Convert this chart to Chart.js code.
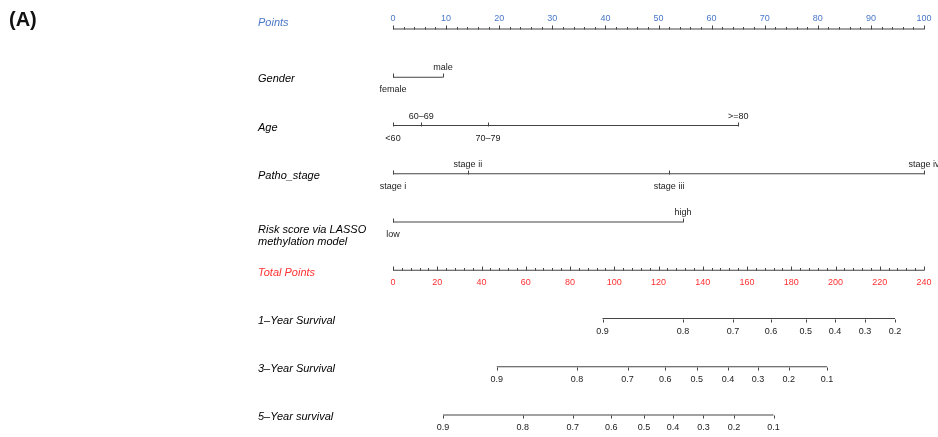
<!DOCTYPE html>
<html>
<head>
<meta charset="utf-8">
<script src="https://cdn.jsdelivr.net/npm/chart.js@4/dist/chart.umd.min.js"></script>
<style>
  body { margin: 0; background: #fff; }
  #wrap { position: relative; width: 938px; height: 437px; }
</style>
</head>
<body>
<div id="wrap"><canvas id="nomo"></canvas></div>
<script>
// nomogram data
const pointTicks = [0, 10, 20, 30, 40, 50, 60, 70, 80, 90, 100];
const totalTicks = [0, 20, 40, 60, 80, 100, 120, 140, 160, 180, 200, 220, 240];

const genderLevels = ['female', 'male'];
const genderPoints = [0, 9.4];
const ageLevels = ['<60', '60–69', '70–79', '>=80'];
const agePoints = [0, 5.3, 17.9, 65];
const stageLevels = ['stage i', 'stage ii', 'stage iii', 'stage iv'];
const stagePoints = [0, 14.1, 52, 100];
const riskLevels = ['low', 'high'];
const riskPoints = [0, 54.6];

const surv1Labels = ['0.9', '0.8', '0.7', '0.6', '0.5', '0.4', '0.3', '0.2'];
const surv1Total = [94.7, 131.1, 153.7, 170.8, 186.5, 199.8, 213.3, 226.9];
const surv3Labels = ['0.9', '0.8', '0.7', '0.6', '0.5', '0.4', '0.3', '0.2', '0.1'];
const surv3Total = [46.9, 83.2, 106, 123.1, 137.3, 151.4, 165, 178.9, 196.2];
const surv5Labels = ['0.9', '0.8', '0.7', '0.6', '0.5', '0.4', '0.3', '0.2', '0.1'];
const surv5Total = [22.6, 58.6, 81.2, 98.7, 113.5, 126.6, 140.3, 154.1, 172];

const blue = '#4a78c8';
const red = '#ff3030';
const lineCol = '#444';
const FONT = '"Liberation Sans", Arial, sans-serif';

// rows (top to bottom)
const rows = [
  { name: 'Points', axis: 'x', kind: 'points', color: blue },
  { name: 'Gender', axis: 'x', levels: genderLevels, vals: genderPoints },
  { name: 'Age', axis: 'x', levels: ageLevels, vals: agePoints },
  { name: 'Patho_stage', axis: 'x', levels: stageLevels, vals: stagePoints },
  { name: ['Risk score via LASSO', 'methylation model'], axis: 'x', levels: riskLevels, vals: riskPoints },
  { name: 'Total Points', axis: 'xt', kind: 'total', color: red },
  { name: '1–Year Survival', axis: 'xt', kind: 'surv', levels: surv1Labels, vals: surv1Total },
  { name: '3–Year Survival', axis: 'xt', kind: 'surv', levels: surv3Labels, vals: surv3Total },
  { name: '5–Year survival', axis: 'xt', kind: 'surv', levels: surv5Labels, vals: surv5Total }
];

function rowSpan(r) {
  if (r.kind === 'points') return [pointTicks[0], pointTicks[pointTicks.length - 1]];
  if (r.kind === 'total') return [totalTicks[0], totalTicks[totalTicks.length - 1]];
  return [Math.min(...r.vals), Math.max(...r.vals)];
}

const datasets = rows.map((r, i) => {
  const [a, b] = rowSpan(r);
  return {
    data: [{ x: a, y: i }, { x: b, y: i }],
    xAxisID: r.axis,
    borderColor: lineCol,
    borderWidth: 1.2,
    pointRadius: 0,
    clip: false
  };
});

const nomoPlugin = {
  id: 'nomo',
  afterDraw(chart) {
    const ctx = chart.ctx;
    const ys = chart.scales.y;
    ctx.save();

    // panel letter
    ctx.fillStyle = '#111';
    ctx.font = 'bold 20px ' + FONT;
    ctx.textAlign = 'left';
    ctx.textBaseline = 'alphabetic';
    ctx.fillText('(A)', 9, 26);

    rows.forEach((r, i) => {
      const sc = chart.scales[r.axis];
      const y = Math.round(ys.getPixelForValue(i)) + 0.5;

      // row title
      ctx.font = 'italic 11px ' + FONT;
      ctx.textAlign = 'left';
      ctx.textBaseline = 'middle';
      ctx.fillStyle = r.color || '#000';
      if (Array.isArray(r.name)) {
        ctx.fillText(r.name[0], 258, y + 7);
        ctx.fillText(r.name[1], 258, y + 19);
      } else {
        let off = 1;
        if (r.kind === 'points') off = -7;
        if (r.kind === 'total') off = 2;
        ctx.fillText(r.name, 258, y + off);
      }

      ctx.strokeStyle = lineCol;
      ctx.lineWidth = 1;
      ctx.font = '9px ' + FONT;
      ctx.textAlign = 'center';

      if (r.kind === 'points' || r.kind === 'total') {
        const ticks = r.kind === 'points' ? pointTicks : totalTicks;
        const minor = r.kind === 'points' ? 2 : 4;
        const lo = ticks[0], hi = ticks[ticks.length - 1];
        ctx.beginPath();
        for (let v = lo; v <= hi + 1e-9; v += minor) {
          const x = Math.round(sc.getPixelForValue(v)) + 0.5;
          const len = ticks.includes(v) ? 4 : 2.5;
          ctx.moveTo(x, y);
          ctx.lineTo(x, y - len);
        }
        ctx.stroke();
        ctx.fillStyle = r.color;
        ticks.forEach(v => {
          const x = sc.getPixelForValue(v);
          ctx.fillText(String(v), x, r.kind === 'points' ? y - 11 : y + 12);
        });
      } else if (r.kind === 'surv') {
        ctx.beginPath();
        r.vals.forEach(v => {
          const x = Math.round(sc.getPixelForValue(v)) + 0.5;
          ctx.moveTo(x, y);
          ctx.lineTo(x, y + 3);
        });
        ctx.stroke();
        ctx.fillStyle = '#222';
        r.vals.forEach((v, k) => {
          ctx.fillText(r.levels[k], sc.getPixelForValue(v), y + 12);
        });
      } else {
        ctx.beginPath();
        r.vals.forEach(v => {
          const x = Math.round(sc.getPixelForValue(v)) + 0.5;
          ctx.moveTo(x, y);
          ctx.lineTo(x, y - 4);
        });
        ctx.stroke();
        ctx.fillStyle = '#222';
        r.vals.forEach((v, k) => {
          const above = k % 2 === 1;
          ctx.fillText(r.levels[k], sc.getPixelForValue(v), above ? y - 10 : y + 12);
        });
      }
    });
    ctx.restore();
  }
};

new Chart(document.getElementById('nomo'), {
  type: 'line',
  data: { datasets },
  options: {
    responsive: true,
    maintainAspectRatio: false,
    animation: false,
    layout: { padding: { left: 393, right: 14, top: 29, bottom: 22 } },
    plugins: { legend: { display: false }, tooltip: { enabled: false } },
    scales: {
      x: { type: 'linear', min: 0, max: 100, display: false },
      xt: { type: 'linear', axis: 'x', min: 0, max: 240, display: false },
      y: { type: 'linear', min: 0, max: 8, reverse: true, display: false }
    }
  },
  plugins: [nomoPlugin]
});
</script>
</body>
</html>
